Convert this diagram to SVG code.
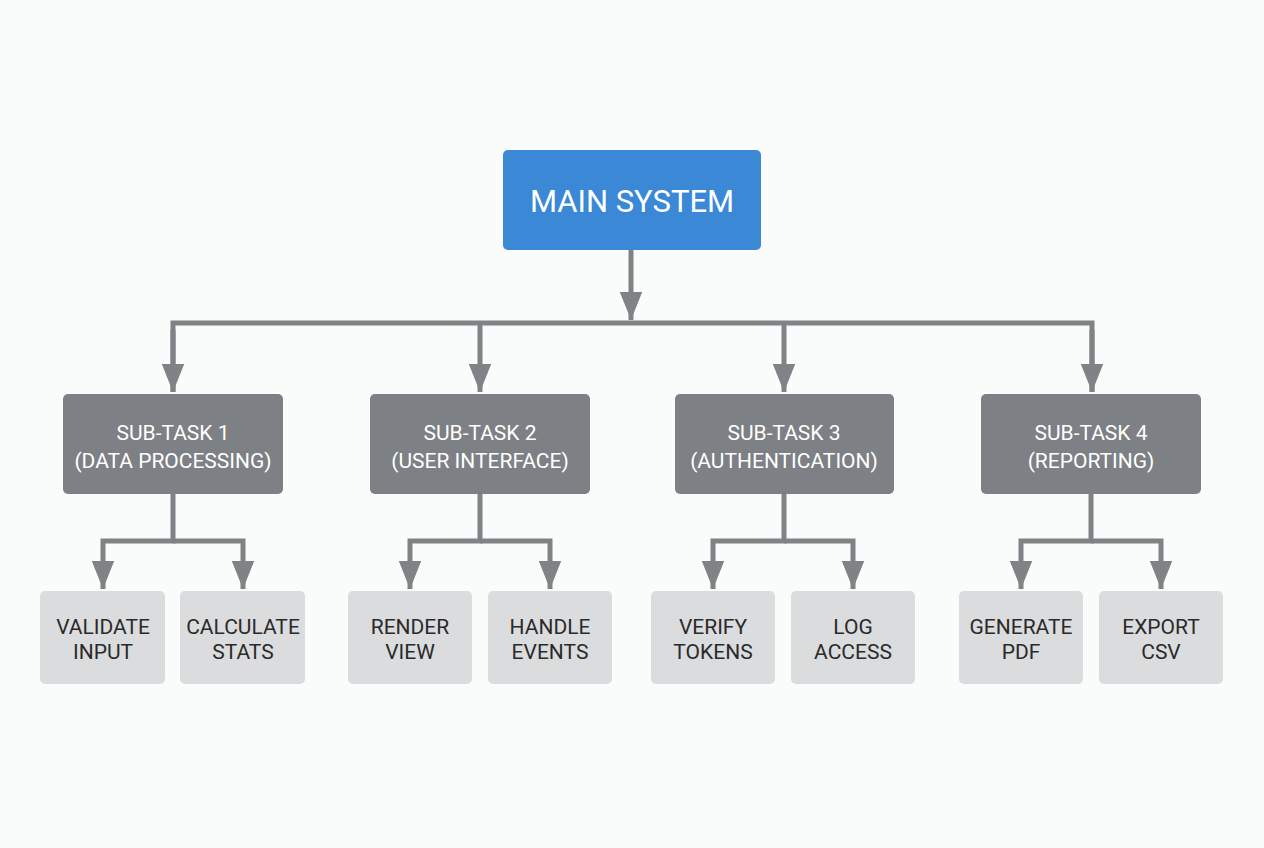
<svg xmlns="http://www.w3.org/2000/svg" width="1264" height="848" viewBox="0 0 1264 848">
<style>
.ln{fill:none;stroke:#808285;stroke-width:5}
.main{fill:#3a88d6}
.sub{fill:#7d8084}
.leaf{fill:#dadcde}
text{font-family:Roboto,"Liberation Sans",sans-serif;text-anchor:middle}
.tm{fill:#fff;font-size:31px}
.ts{fill:#fff;font-size:21px}
.tl{fill:#2a2a2a;font-size:21px}
</style>
<defs><marker id="ah" viewBox="0 0 10 8" refX="10" refY="4" markerWidth="5.6" markerHeight="4.5" orient="auto" markerUnits="strokeWidth"><path d="M0,0L10,4L0,8z" fill="#808285"/></marker></defs>
<rect width="1264" height="848" fill="#fafbfb"/>
<g id="connectors">
<path class="ln" d="M631,250V320" marker-end="url(#ah)"/>
<path class="ln" d="M173,392V323H1092V392" />
<path class="ln" d="M173,330V392" marker-end="url(#ah)"/>
<path class="ln" d="M480,323V392" marker-end="url(#ah)"/>
<path class="ln" d="M784,323V392" marker-end="url(#ah)"/>
<path class="ln" d="M1092,330V392" marker-end="url(#ah)"/>
<path class="ln" d="M173,494V541H103V589" marker-end="url(#ah)"/>
<path class="ln" d="M173,541H243V589" marker-end="url(#ah)"/>
<path class="ln" d="M480,494V541H410V589" marker-end="url(#ah)"/>
<path class="ln" d="M480,541H550V589" marker-end="url(#ah)"/>
<path class="ln" d="M784,494V541H713V589" marker-end="url(#ah)"/>
<path class="ln" d="M784,541H853V589" marker-end="url(#ah)"/>
<path class="ln" d="M1091,494V541H1021V589" marker-end="url(#ah)"/>
<path class="ln" d="M1091,541H1161V589" marker-end="url(#ah)"/>
</g>
<g id="main"><rect class="main" x="503" y="150" width="258" height="100" rx="5"/><text class="tm" x="632" y="212">MAIN SYSTEM</text></g>
<g id="sub1"><rect class="sub" x="63" y="394" width="220" height="100" rx="5"/><text class="ts" x="173" y="440">SUB-TASK 1</text><text class="ts" x="173" y="468">(DATA PROCESSING)</text></g>
<g id="sub2"><rect class="sub" x="370" y="394" width="220" height="100" rx="5"/><text class="ts" x="480" y="440">SUB-TASK 2</text><text class="ts" x="480" y="468">(USER INTERFACE)</text></g>
<g id="sub3"><rect class="sub" x="675" y="394" width="219" height="100" rx="5"/><text class="ts" x="784" y="440">SUB-TASK 3</text><text class="ts" x="784" y="468">(AUTHENTICATION)</text></g>
<g id="sub4"><rect class="sub" x="981" y="394" width="220" height="100" rx="5"/><text class="ts" x="1091" y="440">SUB-TASK 4</text><text class="ts" x="1091" y="468">(REPORTING)</text></g>
<g id="leaf1"><rect class="leaf" x="40" y="591" width="125" height="93" rx="5"/><text class="tl" x="103" y="634">VALIDATE</text><text class="tl" x="103" y="659">INPUT</text></g>
<g id="leaf2"><rect class="leaf" x="180" y="591" width="125" height="93" rx="5"/><text class="tl" x="243" y="634">CALCULATE</text><text class="tl" x="243" y="659">STATS</text></g>
<g id="leaf3"><rect class="leaf" x="348" y="591" width="124" height="93" rx="5"/><text class="tl" x="410" y="634">RENDER</text><text class="tl" x="410" y="659">VIEW</text></g>
<g id="leaf4"><rect class="leaf" x="488" y="591" width="124" height="93" rx="5"/><text class="tl" x="550" y="634">HANDLE</text><text class="tl" x="550" y="659">EVENTS</text></g>
<g id="leaf5"><rect class="leaf" x="651" y="591" width="124" height="93" rx="5"/><text class="tl" x="713" y="634">VERIFY</text><text class="tl" x="713" y="659">TOKENS</text></g>
<g id="leaf6"><rect class="leaf" x="791" y="591" width="124" height="93" rx="5"/><text class="tl" x="853" y="634">LOG</text><text class="tl" x="853" y="659">ACCESS</text></g>
<g id="leaf7"><rect class="leaf" x="959" y="591" width="124" height="93" rx="5"/><text class="tl" x="1021" y="634">GENERATE</text><text class="tl" x="1021" y="659">PDF</text></g>
<g id="leaf8"><rect class="leaf" x="1099" y="591" width="124" height="93" rx="5"/><text class="tl" x="1161" y="634">EXPORT</text><text class="tl" x="1161" y="659">CSV</text></g>
</svg>
